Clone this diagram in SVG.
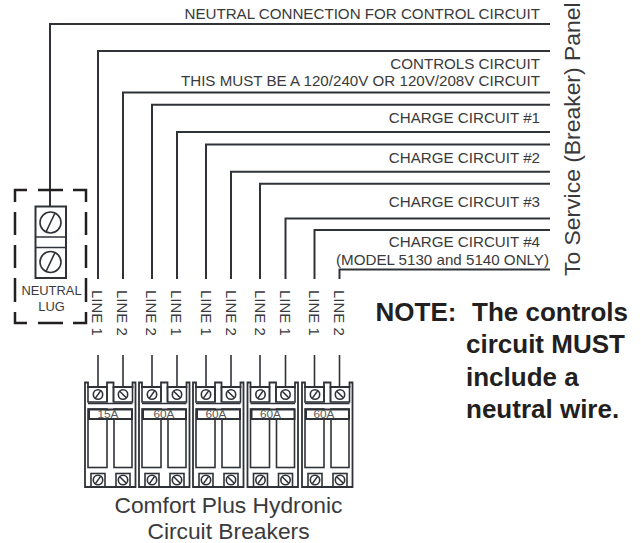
<svg xmlns="http://www.w3.org/2000/svg" xmlns:xlink="http://www.w3.org/1999/xlink" width="641" height="543" viewBox="0 0 641 543">
<style>
text{font-family:"Liberation Sans",Arial,sans-serif;fill:#3a3a3c}
.w{fill:none;stroke:#2f3338;stroke-width:2}
.t{font-size:15.15px;text-anchor:end}
.l{font-size:15px}
.n{font-size:26px;font-weight:bold;fill:#231f20}
.c{font-size:22.8px;text-anchor:middle}
.s{fill:#fff;stroke:#2f3338;stroke-width:1.6}
.f{fill:none;stroke:#2f3338;stroke-width:1.6}
.a{font-size:11.8px;text-anchor:middle;fill:#58595b}
</style>
<defs>
<g id="sc"><circle r="4.7" class="s"/><path d="M-2.6 3.6L2.6-3.6" class="f"/></g>
<g id="sd"><circle r="4.7" class="s"/><path d="M-3.3-3.2L3.3 3.2" class="f"/></g>
<g id="br">
<path d="M0 104.500V0H3V4.500H22V0H28.500V4.500H47.500V0H50.500V104.500Z" fill="#fff" stroke="#2f3338" stroke-width="1.800"/>
<path d="M22 4.500V19.500M28.500 4.500V19.500" class="f"/>
<rect x="3" y="4.500" width="19" height="15" class="f"/>
<rect x="28.500" y="4.500" width="19" height="15" class="f"/>
<path d="M3 21H47.500" class="f"/>
<rect x="3" y="26.500" width="19" height="58.500" class="f"/>
<rect x="29" y="26.500" width="18" height="58.500" class="f"/>
<rect x="4" y="27" width="43" height="9.500" fill="#fff" stroke="#2f3338" stroke-width="2"/>
<rect x="6" y="91" width="14" height="13.500" class="f"/>
<rect x="31" y="91" width="14" height="13.500" class="f"/>
<use xlink:href="#sc" href="#sc" x="13" y="12"/>
<use xlink:href="#sd" href="#sd" x="38" y="12"/>
<use xlink:href="#sc" href="#sc" x="13" y="97.500"/>
<use xlink:href="#sd" href="#sd" x="38" y="97.500"/>
</g>
</defs>
<g id="connectors">
<path class="w" d="M50 206V24H550"/>
<path class="w" d="M98 279V51H550"/>
<path class="w" d="M123 279V92.500H550"/>
<path class="w" d="M152 279V104.700H550"/>
<path class="w" d="M177 279V132H550"/>
<path class="w" d="M206 279V144.500H550"/>
<path class="w" d="M231 279V171.700H550"/>
<path class="w" d="M260 279V183.700H550"/>
<path class="w" d="M285.500 279V218.500H550"/>
<path class="w" d="M314.500 279V230H550"/>
<path class="w" d="M339.500 279V269.500H550"/>
<path class="w" d="M98 355V387M123 355V387M152 355V387M177 355V387M206 355V387M231 355V387M260 355V387M285.500 355V387M314.500 355V387M339.500 355V387" style="stroke-width:1.600"/>
</g>
<g id="circuit-labels">
<text class="t" x="540" y="19">NEUTRAL CONNECTION FOR CONTROL CIRCUIT</text>
<text class="t" x="540" y="69">CONTROLS CIRCUIT</text>
<text class="t" x="540" y="86">THIS MUST BE A 120/240V OR 120V/208V CIRCUIT</text>
<text class="t" x="540" y="123">CHARGE CIRCUIT #1</text>
<text class="t" x="540" y="163">CHARGE CIRCUIT #2</text>
<text class="t" x="540" y="207">CHARGE CIRCUIT #3</text>
<text class="t" x="540" y="247">CHARGE CIRCUIT #4</text>
<text class="t" x="549" y="265">(MODEL 5130 and 5140 ONLY)</text>
</g>
<g id="neutral-lug">
<path d="M15 202V190H27M38 190H63M73 190H86V202M15 212V235M15 245V268M15 278V302M15 312V323H27M38 323H63M73 323H86V312M86 278V302M86 212V235M86 245V268" fill="none" stroke="#231f20" stroke-width="2.500"/>
<rect x="35.500" y="206.500" width="30.500" height="71.500" fill="#fff" stroke="#2f3338" stroke-width="2"/>
<path d="M35.500 237H66M35.500 247.500H66" stroke="#2f3338" stroke-width="1.500"/>
<circle cx="50.500" cy="222.500" r="10.500" class="f"/><path d="M46 232L55 213" class="f"/>
<circle cx="50.500" cy="262" r="10.500" class="f"/><path d="M46 271.500L55 252.500" class="f"/>
<text x="51.500" y="295" font-size="12.900" text-anchor="middle">NEUTRAL</text>
<text x="51.500" y="311" font-size="12.900" text-anchor="middle">LUG</text>
</g>
<g id="line-labels">
<text class="l" transform="translate(92 290) rotate(90)">LINE 1</text>
<text class="l" transform="translate(117 290) rotate(90)">LINE 2</text>
<text class="l" transform="translate(146 290) rotate(90)">LINE 2</text>
<text class="l" transform="translate(171 290) rotate(90)">LINE 1</text>
<text class="l" transform="translate(200.500 290) rotate(90)">LINE 1</text>
<text class="l" transform="translate(225.500 290) rotate(90)">LINE 2</text>
<text class="l" transform="translate(254.500 290) rotate(90)">LINE 2</text>
<text class="l" transform="translate(279.500 290) rotate(90)">LINE 1</text>
<text class="l" transform="translate(308.500 290) rotate(90)">LINE 1</text>
<text class="l" transform="translate(333.500 290) rotate(90)">LINE 2</text>
</g>
<g id="breaker-1"><use xlink:href="#br" href="#br" x="85" y="382.500"/><text class="a" x="108" y="418">15A</text></g>
<g id="breaker-2"><use xlink:href="#br" href="#br" x="139" y="382.500"/><text class="a" x="164" y="418">60A</text></g>
<g id="breaker-3"><use xlink:href="#br" href="#br" x="193" y="382.500"/><text class="a" x="216" y="418">60A</text></g>
<g id="breaker-4"><use xlink:href="#br" href="#br" x="247.500" y="382.500"/><text class="a" x="270.500" y="418">60A</text></g>
<g id="breaker-5"><use xlink:href="#br" href="#br" x="302" y="382.500"/><text class="a" x="324" y="418">60A</text></g>
<g id="captions">
<text class="c" x="228.500" y="513">Comfort Plus Hydronic</text>
<text class="c" x="228.500" y="539">Circuit Breakers</text>
<text font-size="22.900" transform="translate(580 276) rotate(-90)">To Service (Breaker) Panel</text>
<text class="n" x="375.500" y="321">NOTE:</text><text class="n" x="472" y="321">The controls</text>
<text class="n" x="466" y="353">circuit MUST</text>
<text class="n" x="466" y="386">include a</text>
<text class="n" x="466" y="418">neutral wire.</text>
</g>
</svg>
